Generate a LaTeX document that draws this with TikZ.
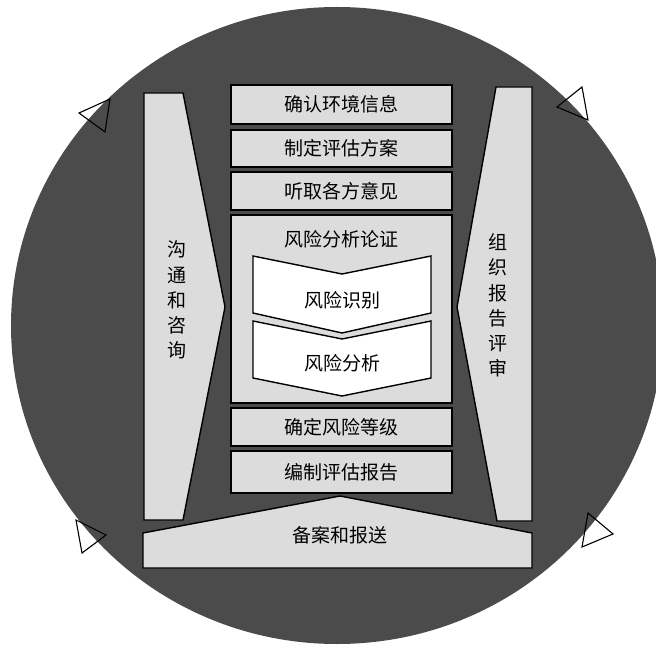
\documentclass[tikz,border=0pt]{standalone}
\usepackage{fontspec}
\newfontfamily\cjk{Noto Sans CJK SC}
\definecolor{disc}{HTML}{4B4B4B}
\definecolor{panel}{HTML}{DCDCDC}
\begin{document}
\begin{tikzpicture}[x=1pt,y=-1pt,
  edge/.style={draw=black,line width=1.4pt,line join=miter},
  boxnode/.style={edge,fill=panel,minimum width=221pt,inner sep=0pt,font=\cjk\fontsize{19}{21}\selectfont},
  txt/.style={font=\cjk\fontsize{19}{21}\selectfont,inner sep=0pt},
  vtxt/.style={font=\cjk\fontsize{19}{25.2}\selectfont,inner sep=0pt,align=center},
  tri/.style={draw=black,line width=1.1pt,line join=miter}]
\useasboundingbox (0,0) rectangle (656,652);
\begin{scope}
\clip (0,0) rectangle (656,652);
\fill[disc] (337,325.5) ellipse [x radius=326, y radius=318.5];
\end{scope}
% direction marks
\draw[tri] (79,113) -- (110,99) -- (105,132) -- cycle;
\draw[tri] (557,107) -- (582,87) -- (588,120) -- cycle;
\draw[tri] (76,520) -- (106,535) -- (82,553) -- cycle;
\draw[tri] (588,513) -- (613,534) -- (582,547) -- cycle;
% side panels
\draw[edge,fill=panel] (144,93) -- (183,93) -- (225,307) -- (183,520) -- (144,520) -- cycle;
\draw[edge,fill=panel] (496,87) -- (532,87) -- (532,521) -- (497,521) -- (457,307) -- cycle;
\node[vtxt] (comm) at (177,300) {沟\\通\\和\\咨\\询};
\node[vtxt] (review) at (498,305.5) {组\\织\\报\\告\\评\\审};
% bottom panel
\draw[edge,fill=panel] (143,568) -- (143,533) -- (340,496) -- (532,533) -- (532,568) -- cycle;
\node[txt] (file) at (340,535) {备案和报送};
% central stack
\node[boxnode,minimum height=39pt] (b1) at (341.5,104.5) {确认环境信息};
\node[boxnode,minimum height=37pt] (b2) at (341.5,148.5) {制定评估方案};
\node[boxnode,minimum height=38pt] (b3) at (341.5,191) {听取各方意见};
\node[boxnode,minimum height=188pt] (b4) at (341.5,309) {};
\node[txt] (b4t) at (341.5,239) {风险分析论证};
\draw[edge,fill=white] (253,256) -- (342,274) -- (431,256) -- (431,313) -- (342,333) -- (253,313) -- cycle;
\node[txt] (c1) at (342,300) {风险识别};
\draw[edge,fill=white] (253,321) -- (342,339) -- (431,321) -- (431,378) -- (342,396) -- (253,378) -- cycle;
\node[txt] (c2) at (342,363) {风险分析};
\node[boxnode,minimum height=38pt] (b5) at (341.5,427) {确定风险等级};
\node[boxnode,minimum height=42pt] (b6) at (341.5,472) {编制评估报告};
\end{tikzpicture}
\end{document}
